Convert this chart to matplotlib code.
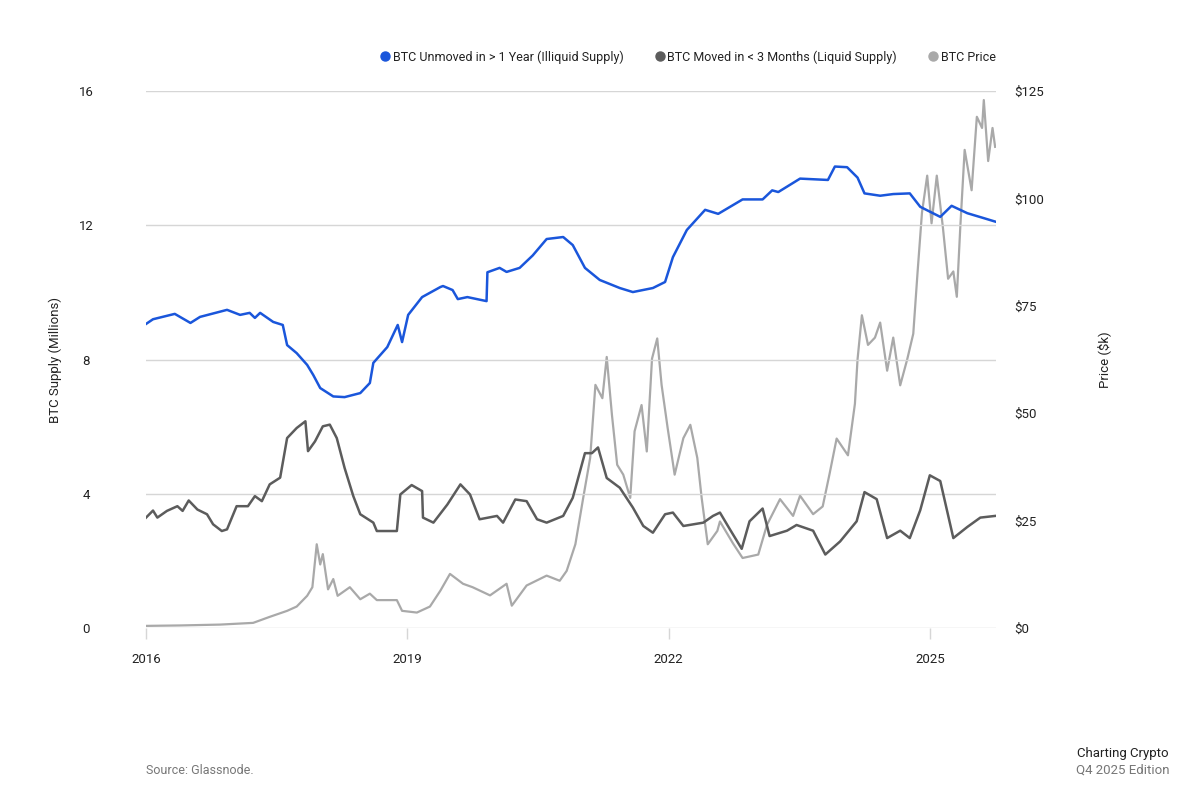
import matplotlib
matplotlib.use('Agg')
import matplotlib.pyplot as plt
from matplotlib.lines import Line2D

plt.rcParams['font.family'] = ['Roboto', 'DejaVu Sans']

# ---- data (decimal years) ----
illiquid_t = [2016.00, 2016.08, 2016.33, 2016.51, 2016.62, 2016.93, 2017.08, 2017.19, 2017.25, 2017.31,
              2017.46, 2017.57, 2017.62, 2017.73, 2017.85, 2017.92, 2018.00, 2018.15, 2018.28, 2018.46,
              2018.57, 2018.61, 2018.77, 2018.89, 2018.94, 2019.01, 2019.17, 2019.38, 2019.41, 2019.52,
              2019.58, 2019.69, 2019.80, 2019.91, 2019.92, 2020.06, 2020.14, 2020.29, 2020.44, 2020.60,
              2020.79, 2020.90, 2021.04, 2021.21, 2021.44, 2021.59, 2021.82, 2021.96, 2022.05, 2022.21,
              2022.42, 2022.57, 2022.85, 2023.08, 2023.19, 2023.26, 2023.36, 2023.51, 2023.83, 2023.91,
              2024.05, 2024.17, 2024.25, 2024.43, 2024.58, 2024.77, 2024.89, 2025.12, 2025.25, 2025.43,
              2025.61, 2025.75]
illiquid = [9.06, 9.20, 9.36, 9.09, 9.27, 9.48, 9.33, 9.39, 9.24, 9.39,
            9.12, 9.03, 8.43, 8.19, 7.84, 7.54, 7.15, 6.90, 6.88, 7.00,
            7.30, 7.90, 8.37, 9.03, 8.52, 9.33, 9.86, 10.16, 10.19, 10.07,
            9.80, 9.86, 9.80, 9.74, 10.60, 10.73, 10.61, 10.73, 11.10, 11.59,
            11.65, 11.41, 10.73, 10.37, 10.13, 10.01, 10.13, 10.31, 11.05, 11.86,
            12.46, 12.34, 12.77, 12.77, 13.04, 12.99, 13.15, 13.39, 13.35, 13.75,
            13.73, 13.42, 12.95, 12.88, 12.93, 12.95, 12.55, 12.25, 12.58, 12.36,
            12.22, 12.11]

liquid_t = [2016.00, 2016.08, 2016.13, 2016.24, 2016.36, 2016.42, 2016.49, 2016.59, 2016.70, 2016.77,
            2016.87, 2016.93, 2017.04, 2017.17, 2017.25, 2017.33, 2017.42, 2017.54, 2017.62, 2017.73,
            2017.83, 2017.86, 2017.94, 2018.03, 2018.11, 2018.19, 2018.28, 2018.38, 2018.46, 2018.61,
            2018.65, 2018.88, 2018.92, 2019.05, 2019.17, 2019.18, 2019.30, 2019.46, 2019.61, 2019.72,
            2019.83, 2020.03, 2020.10, 2020.24, 2020.37, 2020.49, 2020.60, 2020.79, 2020.90, 2021.04,
            2021.12, 2021.19, 2021.29, 2021.44, 2021.59, 2021.71, 2021.82, 2021.96, 2022.05, 2022.17,
            2022.40, 2022.51, 2022.59, 2022.70, 2022.84, 2022.93, 2023.08, 2023.16, 2023.36, 2023.47,
            2023.66, 2023.80, 2023.97, 2024.16, 2024.25, 2024.39, 2024.51, 2024.66, 2024.77, 2024.89,
            2025.00, 2025.12, 2025.27, 2025.43, 2025.58, 2025.75]
liquid = [3.29, 3.50, 3.29, 3.49, 3.63, 3.49, 3.80, 3.53, 3.39, 3.09,
          2.89, 2.94, 3.63, 3.63, 3.93, 3.78, 4.28, 4.48, 5.66, 5.96,
          6.16, 5.27, 5.56, 6.01, 6.06, 5.66, 4.77, 3.93, 3.39, 3.14,
          2.89, 2.89, 3.98, 4.26, 4.08, 3.29, 3.14, 3.68, 4.28, 3.98,
          3.24, 3.34, 3.14, 3.83, 3.78, 3.24, 3.14, 3.34, 3.88, 5.21,
          5.21, 5.38, 4.47, 4.18, 3.59, 3.04, 2.84, 3.39, 3.44, 3.04,
          3.14, 3.34, 3.44, 2.96, 2.36, 3.18, 3.56, 2.74, 2.90, 3.07,
          2.90, 2.19, 2.58, 3.18, 4.05, 3.84, 2.68, 2.90, 2.68, 3.51,
          4.55, 4.38, 2.68, 3.01, 3.29, 3.34]

price_t = [2016.00, 2016.39, 2016.85, 2017.23, 2017.42, 2017.62, 2017.73, 2017.85, 2017.91, 2017.96,
           2018.00, 2018.03, 2018.09, 2018.15, 2018.20, 2018.34, 2018.46, 2018.57, 2018.65, 2018.88,
           2018.94, 2019.11, 2019.26, 2019.38, 2019.49, 2019.64, 2019.75, 2019.95, 2020.14, 2020.20,
           2020.37, 2020.60, 2020.75, 2020.83, 2020.93, 2021.02, 2021.10, 2021.16, 2021.24, 2021.29,
           2021.35, 2021.41, 2021.48, 2021.56, 2021.61, 2021.69, 2021.75, 2021.81, 2021.87, 2021.92,
           2021.99, 2022.07, 2022.17, 2022.25, 2022.33, 2022.38, 2022.45, 2022.56, 2022.59, 2022.74,
           2022.85, 2023.03, 2023.13, 2023.28, 2023.43, 2023.51, 2023.66, 2023.77, 2023.85, 2023.93,
           2024.06, 2024.14, 2024.17, 2024.22, 2024.29, 2024.37, 2024.43, 2024.51, 2024.58, 2024.66,
           2024.74, 2024.81, 2024.86, 2024.91, 2024.97, 2025.02, 2025.08, 2025.15, 2025.21, 2025.27,
           2025.31, 2025.35, 2025.40, 2025.48, 2025.54, 2025.60, 2025.62, 2025.67, 2025.72, 2025.75]
price_k = [0.5, 0.6, 0.8, 1.2, 2.6, 4.0, 5.0, 7.5, 9.5, 19.5,
           14.8, 17.2, 9.0, 11.4, 7.5, 9.5, 6.7, 8.0, 6.5, 6.5,
           4.0, 3.6, 5.0, 8.7, 12.6, 10.3, 9.5, 7.6, 10.3, 5.2,
           9.9, 12.2, 11.0, 13.3, 19.5, 30.3, 39.6, 56.6, 53.5, 63.1,
           49.6, 38.0, 35.7, 30.3, 45.8, 51.9, 41.1, 62.7, 67.4, 56.6,
           46.5, 35.7, 44.2, 47.3, 39.6, 30.3, 19.5, 22.6, 24.8, 19.7,
           16.3, 17.1, 24.0, 30.0, 26.1, 30.8, 26.5, 28.3, 36.0, 44.1,
           40.2, 52.2, 62.5, 72.8, 65.9, 67.6, 71.1, 59.9, 67.6, 56.5,
           62.5, 68.5, 83.0, 96.7, 105.3, 94.2, 105.3, 93.3, 81.3, 83.0,
           77.1, 93.3, 111.3, 101.9, 119.0, 116.4, 122.9, 108.7, 116.4, 112.0]

year_ticks = [2016, 2019, 2022, 2025]
supply_ticks = [0, 4, 8, 12, 16]
price_ticks = [0, 25, 50, 75, 100, 125]

BLUE = '#1a56db'
DARK = '#5c5c5c'
LIGHT = '#a9a9a9'
GRID = '#d6d6d6'

fig = plt.figure(figsize=(12, 8.09), dpi=100)
ax = fig.add_axes([0.1217, 0.2237, 0.7083, 0.6638])
ax2 = ax.twinx()
ax.set_zorder(ax2.get_zorder() + 1)
ax.patch.set_visible(False)

ax2.plot(price_t, price_k, color=LIGHT, lw=1.6)
ax.plot(liquid_t, liquid, color=DARK, lw=1.8)
ax.plot(illiquid_t, illiquid, color=BLUE, lw=1.8)

ax.set_xlim(2016.0, 2025.76)
ax.set_ylim(0, 16)
ax2.set_ylim(0, 125)

ax.set_yticks(supply_ticks)
ax.set_yticklabels([str(v) for v in supply_ticks])
ax2.set_yticks(price_ticks)
ax2.set_yticklabels(['$' + str(v) for v in price_ticks])
ax.set_xticks(year_ticks)
ax.set_xticklabels([str(v) for v in year_ticks])

for a in (ax, ax2):
    for s in a.spines.values():
        s.set_visible(False)

ax.grid(axis='y', color=GRID, lw=1.0)
ax.tick_params(axis='y', length=0, pad=43, labelsize=9.5, labelcolor='#222222')
for lab in ax.get_yticklabels():
    lab.set_horizontalalignment('center')
ax2.tick_params(axis='y', length=0, pad=13, labelsize=9.5, labelcolor='#222222')
ax.tick_params(axis='x', length=8, width=1, color=GRID, pad=10, labelsize=9.5, labelcolor='#222222')

ax.set_ylabel('BTC Supply (Millions)', fontsize=9.5, color='#222222', labelpad=12)
ax2.set_ylabel('Price ($k)', fontsize=9.5, color='#222222', labelpad=38)

handles = [Line2D([], [], marker='o', ls='', color=BLUE, markersize=6.5),
           Line2D([], [], marker='o', ls='', color=DARK, markersize=6.5),
           Line2D([], [], marker='o', ls='', color=LIGHT, markersize=6.5)]
labels = ['BTC Unmoved in > 1 Year (Illiquid Supply)',
          'BTC Moved in < 3 Months (Liquid Supply)',
          'BTC Price']
fig.legend(handles, labels, loc='center right', bbox_to_anchor=(0.839, 1 - 57 / 809), ncol=3,
           frameon=False, fontsize=9, handletextpad=0.1, columnspacing=2.4, handlelength=1.0,
           labelcolor='#222222')

fig.text(146 / 1200, 1 - 770 / 809, 'Source: Glassnode.', fontsize=9, color='#777777',
         ha='left', va='center')
fig.text(1169 / 1200, 1 - 754 / 809, 'Charting Crypto', fontsize=9.5, color='#222222',
         ha='right', va='center')
fig.text(1169 / 1200, 1 - 770 / 809, 'Q4 2025 Edition', fontsize=9.5, color='#777777',
         ha='right', va='center')

fig.savefig('out.png', dpi=100, facecolor='white')
